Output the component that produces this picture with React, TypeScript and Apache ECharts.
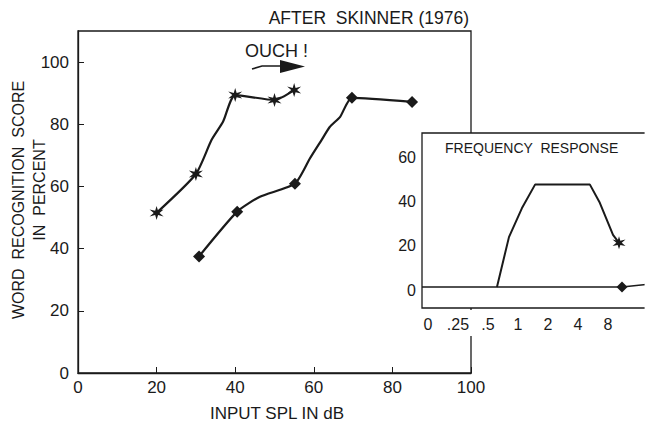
import React, { useEffect, useRef } from "react";
import * as echarts from "echarts";

// ---------- main chart data ----------
// series drawn with star markers (left curve)
const starX = [20, 30, 34, 36.9, 40, 50, 55];
const starY = [51.5, 64, 75, 80.8, 89.4, 87.8, 91];
const starMarked = [true, true, false, false, true, true, true];

// series drawn with diamond markers (right curve)
const diamondX = [30.8, 40.5, 46.3, 55.2, 59, 62, 64.1, 66.7, 69.7, 85];
const diamondY = [37.5, 51.9, 56.7, 60.9, 69, 75, 79.2, 82.4, 88.5, 87.2];
const diamondMarked = [true, true, false, true, false, false, false, false, true, true];

const mainXTicks = [0, 20, 40, 60, 80, 100];
const mainYTicks = [0, 20, 40, 60, 80, 100];

// ---------- inset (frequency response) ----------
const freqLabels = ["0", ".25", ".5", "1", "2", "4", "8"];
const freqTickIdx = [0, 1, 2, 3, 4, 5, 6];
const insetYTicks = [0, 20, 40, 60];

const respStarX = [2.3, 2.7, 3.13, 3.57, 5.4, 5.73, 6.17, 6.37];
const respStarY = [1.5, 24, 37, 47.7, 47.7, 39.5, 25, 21.4];
const respStarMarked = [false, false, false, false, false, false, false, true];

const respDiamondX = [-0.2, 6.47, 7.27];
const respDiamondY = [1.5, 1.5, 2.6];
const respDiamondMarked = [false, true, false];

const STAR =
  "path://M10 0L11.8 6.9L18.66 5L13.6 10L18.66 15L11.8 13.1L10 20L8.2 13.1L1.34 15L6.4 10L1.34 5L8.2 6.9Z";

const FONT = "'Liberation Sans', Arial, sans-serif";
const INK = "#1a1a1a";

function build(xs: number[], ys: number[], marked: boolean[], sym: string, size: number) {
  return xs.map((x, i) => ({
    value: [x, ys[i]],
    symbol: marked[i] ? sym : "none",
    symbolSize: marked[i] ? size : 0,
  }));
}

export default function App() {
  const ref = useRef<HTMLDivElement>(null);
  useEffect(() => {
    document.body.style.margin = "0";
    if (!ref.current) return;
    const chart = echarts.init(ref.current, undefined, { renderer: "svg" });
    const option: any = {
      animation: false,
      backgroundColor: "#fff",
      grid: [
        {
          left: 78,
          top: 31,
          width: 393,
          height: 342,
          show: true,
          borderColor: INK,
          borderWidth: 1.3,
          backgroundColor: "transparent",
          z: 0,
        },
        {
          left: 422,
          top: 133,
          width: 224,
          height: 175,
          show: true,
          borderColor: INK,
          borderWidth: 1.3,
          backgroundColor: "#fff",
          z: 10,
        },
      ],
      xAxis: [
        {
          type: "value",
          gridIndex: 0,
          min: 0,
          max: 100,
          splitLine: { show: false },
          axisLine: { show: true, lineStyle: { color: INK, width: 1.3 } },
          axisTick: {
            show: true,
            inside: true,
            length: 6,
            customValues: mainXTicks,
            lineStyle: { color: INK },
          },
          axisLabel: {
            customValues: mainXTicks,
            color: INK,
            fontFamily: FONT,
            fontSize: 17,
            margin: 6,
          },
        },
        {
          type: "value",
          gridIndex: 1,
          min: -0.2,
          max: 7.27,
          z: 20,
          splitLine: { show: false },
          axisLine: { show: false },
          axisTick: { show: false },
          axisLabel: {
            customValues: freqTickIdx,
            formatter: (v: number) => freqLabels[Math.round(v)] ?? "",
            color: INK,
            fontFamily: FONT,
            fontSize: 16,
            margin: 8,
          },
        },
      ],
      yAxis: [
        {
          type: "value",
          gridIndex: 0,
          min: 0,
          max: 110,
          splitLine: { show: false },
          axisLine: { show: true, lineStyle: { color: INK, width: 1.3 } },
          axisTick: {
            show: true,
            inside: true,
            length: 6,
            customValues: mainYTicks,
            lineStyle: { color: INK },
          },
          axisLabel: {
            customValues: mainYTicks,
            color: INK,
            fontFamily: FONT,
            fontSize: 17,
            margin: 9,
          },
        },
        {
          type: "value",
          gridIndex: 1,
          min: -8,
          max: 71,
          z: 20,
          splitLine: { show: false },
          axisLine: { show: false },
          axisTick: { show: false },
          axisLabel: {
            customValues: insetYTicks,
            color: INK,
            fontFamily: FONT,
            fontSize: 16,
            margin: 6,
          },
        },
      ],
      series: [
        {
          name: "Star",
          type: "line",
          xAxisIndex: 0,
          yAxisIndex: 0,
          data: build(starX, starY, starMarked, STAR, 14),
          lineStyle: { color: INK, width: 2.2 },
          itemStyle: { color: INK },
          smooth: 0.2,
        },
        {
          name: "Diamond",
          type: "line",
          xAxisIndex: 0,
          yAxisIndex: 0,
          data: build(diamondX, diamondY, diamondMarked, "diamond", 12),
          lineStyle: { color: INK, width: 2.2 },
          itemStyle: { color: INK },
          smooth: 0.2,
        },
        {
          name: "Response star",
          type: "line",
          xAxisIndex: 1,
          yAxisIndex: 1,
          z: 30,
          data: build(respStarX, respStarY, respStarMarked, STAR, 13),
          lineStyle: { color: INK, width: 2 },
          itemStyle: { color: INK },
        },
        {
          name: "Response diamond",
          type: "line",
          xAxisIndex: 1,
          yAxisIndex: 1,
          z: 30,
          data: build(respDiamondX, respDiamondY, respDiamondMarked, "diamond", 11),
          lineStyle: { color: INK, width: 1.6 },
          itemStyle: { color: INK },
        },
      ],
      graphic: [
        {
          type: "rect",
          z: 5,
          shape: { x: 464, y: 310, width: 14, height: 26 },
          style: { fill: "#fff" },
        },
        {
          type: "rect",
          z: 50,
          shape: { x: 644.6, y: 130, width: 4, height: 181 },
          style: { fill: "#fff" },
        },
        {
          type: "text",
          x: 469,
          y: 18,
          style: {
            text: "AFTER  SKINNER (1976)",
            fill: INK,
            font: `17.5px ${FONT}`,
            align: "right",
            verticalAlign: "middle",
          },
        },
        {
          type: "text",
          x: 245,
          y: 51,
          style: {
            text: "OUCH !",
            fill: INK,
            font: `18px ${FONT}`,
            align: "left",
            verticalAlign: "middle",
          },
        },
        {
          type: "polyline",
          shape: { points: [[252, 69], [262, 66], [282, 66]] },
          style: { stroke: INK, lineWidth: 1.6, fill: "none" },
        },
        {
          type: "polygon",
          shape: { points: [[280, 60], [305, 66.5], [280, 73]] },
          style: { fill: INK },
        },
        {
          type: "text",
          x: 277,
          y: 413,
          style: {
            text: "INPUT SPL IN dB",
            fill: INK,
            font: `17px ${FONT}`,
            align: "center",
            verticalAlign: "middle",
          },
        },
        {
          type: "text",
          x: 18,
          y: 200,
          rotation: Math.PI / 2,
          style: {
            text: "WORD  RECOGNITION  SCORE",
            fill: INK,
            font: `16px ${FONT}`,
            align: "center",
            verticalAlign: "middle",
          },
        },
        {
          type: "text",
          x: 39,
          y: 190,
          rotation: Math.PI / 2,
          style: {
            text: "IN  PERCENT",
            fill: INK,
            font: `16px ${FONT}`,
            align: "center",
            verticalAlign: "middle",
          },
        },
        {
          type: "text",
          x: 445,
          y: 148,
          z: 40,
          style: {
            text: "FREQUENCY  RESPONSE",
            fill: INK,
            font: `14px ${FONT}`,
            align: "left",
            verticalAlign: "middle",
          },
        },
      ],
    };
    chart.setOption(option);
    return () => chart.dispose();
  }, []);
  return <div ref={ref} style={{ width: 646, height: 428 }} />;
}
